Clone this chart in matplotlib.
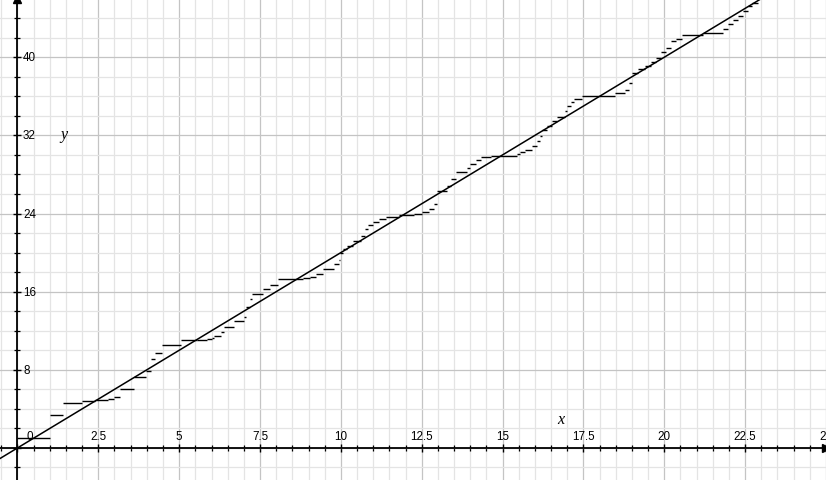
import matplotlib
matplotlib.use("Agg")
import matplotlib.pyplot as plt
from matplotlib.ticker import MultipleLocator
import numpy as np

# step function pieces: piece i runs from step_x[i] to step_x[i+1] at height step_y[i]
step_x = [0.0, 1.0, 1.42, 2.0, 2.4, 2.8, 3.0, 3.17, 3.6, 3.97, 4.13, 4.25, 4.47,
          5.05, 5.54, 5.85, 6.0, 6.07, 6.3, 6.4, 6.7, 7.0, 7.08, 7.18, 7.25, 7.6,
          7.8, 8.05, 8.82, 9.03, 9.24, 9.44, 9.8, 9.93, 9.98, 10.06, 10.2, 10.36,
          10.62, 10.75, 10.83, 10.98, 11.17, 11.39, 11.8, 12.26, 12.52, 12.73,
          12.88, 12.98, 13.29, 13.4, 13.55, 13.89, 14.0, 14.17, 14.32, 14.63,
          15.45, 15.55, 15.7, 15.9, 16.06, 16.16, 16.23, 16.38, 16.53, 16.68,
          16.94, 17.0, 17.1, 17.2, 17.45, 17.97, 18.48, 18.79, 18.9, 19.0, 19.2,
          19.4, 19.6, 19.75, 19.9, 20.05, 20.2, 20.35, 20.56, 21.2, 21.82, 21.97,
          22.13, 22.28, 22.44, 22.59, 22.7, 22.9]
step_y = [1.0, 3.4, 4.6, 4.84, 4.9, 5.0, 5.25, 6.03, 7.26, 7.9, 9.1, 9.7, 10.5,
          11.05, 11.1, 11.15, 11.3, 11.5, 11.9, 12.4, 13.0, 13.4, 14.4, 15.2, 15.8,
          16.3, 16.7, 17.25, 17.35, 17.55, 17.8, 18.3, 18.8, 19.2, 20.0, 20.4,
          20.7, 21.2, 21.7, 22.4, 22.8, 23.15, 23.4, 23.6, 23.8, 24.0, 24.2,
          24.45, 24.96, 26.3, 26.8, 27.5, 28.2, 28.7, 29.05, 29.5, 29.8, 29.9,
          30.1, 30.3, 30.5, 30.9, 31.4, 31.95, 32.6, 33.0, 33.5, 33.9, 34.5, 35.0,
          35.4, 35.7, 35.98, 36.04, 36.3, 36.65, 37.4, 38.4, 38.8, 39.1, 39.5,
          39.97, 40.5, 40.9, 41.7, 41.9, 42.3, 42.45, 42.9, 43.4, 43.8, 44.2,
          44.7, 45.25, 45.6]

line_x = [-1.0, 25.0]
line_y = [-2.0, 50.0]

xticks = [0, 2.5, 5, 7.5, 10, 12.5, 15, 17.5, 20, 22.5, 25]
xtick_labels = ["0", "2.5", "5", "7.5", "10", "12.5", "15", "17.5", "20", "22.5", "25"]
yticks = [8, 16, 24, 32, 40]
ytick_labels = ["8", "16", "24", "32", "40"]

fig = plt.figure(figsize=(8.26, 4.81), dpi=100)
ax = fig.add_axes([0, 0, 1, 1])
ax.set_xlim(-0.54, 25.0)
ax.set_ylim(-3.28, 45.96)

ax.xaxis.set_major_locator(MultipleLocator(2.5))
ax.xaxis.set_minor_locator(MultipleLocator(0.5))
ax.yaxis.set_major_locator(MultipleLocator(8))
ax.yaxis.set_minor_locator(MultipleLocator(2))
ax.grid(which="minor", color="#e4e4e4", lw=0.9)
ax.grid(which="major", color="#c4c4c4", lw=0.9)
ax.set_axisbelow(True)

ax.spines['right'].set_color('none')
ax.spines['top'].set_color('none')
ax.spines['bottom'].set_position(('data', 0))
ax.spines['left'].set_position(('data', 0))
ax.spines['bottom'].set_linewidth(1.3)
ax.spines['left'].set_linewidth(1.3)
ax.tick_params(which="major", direction="inout", length=5.5, width=1.0,
               labelbottom=False, labelleft=False)
ax.tick_params(which="minor", direction="inout", length=3.8, width=0.9)

# arrows at the axis ends
ax.plot(1, 0, ">k", ms=5.5, transform=ax.get_yaxis_transform(), clip_on=False)
ax.plot(0, 1, "^k", ms=5.5, transform=ax.get_xaxis_transform(), clip_on=False)

lab = dict(fontsize=8.4, family="Liberation Sans", color="black")
for v, s in zip(xticks, xtick_labels):
    dx = 9 if v == 0 else 0
    ax.annotate(s, (v, 0), xytext=(dx, 8.5), textcoords="offset points",
                ha="center", va="center", annotation_clip=False, **lab)
for v, s in zip(yticks, ytick_labels):
    ax.annotate(s, (0, v), xytext=(4, 0), textcoords="offset points",
                ha="left", va="center", **lab)

ax.text(1.44, 32.1, "y", fontsize=11.5, family="Liberation Serif", style="italic",
        ha="center", va="center")
ax.text(16.8, 2.95, "x", fontsize=11.5, family="Liberation Serif", style="italic",
        ha="center", va="center")

ax.plot(line_x, line_y, color="black", lw=1.1)
ax.hlines(step_y, step_x[:-1], step_x[1:], colors="black", lw=1.0)

fig.savefig("out.png", dpi=100)
